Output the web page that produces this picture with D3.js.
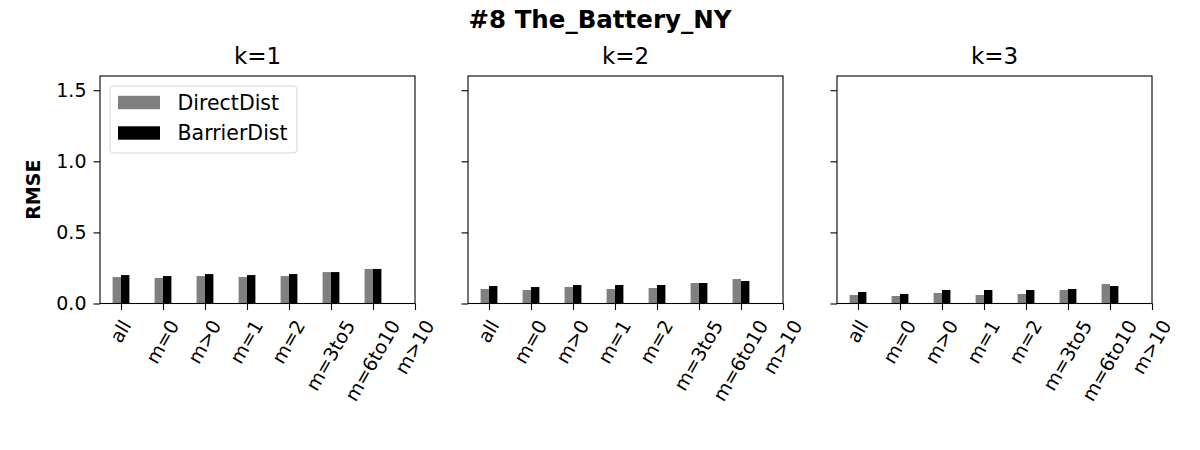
<!DOCTYPE html>
<html>
<head>
<meta charset="utf-8">
<script src="https://cdn.jsdelivr.net/npm/d3@7"></script>
<style>
  body { margin: 0; background: #fff; }
  svg text { font-family: "DejaVu Sans", sans-serif; fill: #000; }
</style>
</head>
<body>
<div id="chart"></div>
<script>
// categories and values
var cats = ['all', 'm=0', 'm>0', 'm=1', 'm=2', 'm=3to5', 'm=6to10', 'm>10'];
var panels = ['k=1', 'k=2', 'k=3'];
var seriesNames = ['DirectDist', 'BarrierDist'];
var seriesColors = ['#808080', '#000000'];

var k1Direct  = [0.186, 0.180, 0.193, 0.186, 0.193, 0.221, 0.243, null];
var k1Barrier = [0.200, 0.193, 0.207, 0.200, 0.207, 0.221, 0.243, null];
var k2Direct  = [0.102, 0.095, 0.116, 0.102, 0.109, 0.144, 0.172, null];
var k2Barrier = [0.123, 0.116, 0.130, 0.130, 0.130, 0.144, 0.158, null];
var k3Direct  = [0.060, 0.053, 0.074, 0.060, 0.067, 0.095, 0.137, null];
var k3Barrier = [0.081, 0.067, 0.095, 0.095, 0.095, 0.102, 0.123, null];

var yTicks = [0, 0.5, 1.0, 1.5];

var panelData = [[k1Direct, k1Barrier], [k2Direct, k2Barrier], [k3Direct, k3Barrier]];

var W = 1200, H = 450;
var panelLeft = [100, 468, 837];
var panelW = 315;
var plotTop = 76, plotBottom = 303.5;
var tickFont = 19, titleFont = 23;

var svg = d3.select("#chart").append("svg").attr("width", W).attr("height", H);

svg.append("text")
  .attr("x", 600).attr("y", 28)
  .attr("text-anchor", "middle")
  .style("font-size", "24.5px").style("font-weight", "bold")
  .text("#8 The_Battery_NY");

var y = d3.scaleLinear().domain([0, 1.6]).range([plotBottom, plotTop]);
var barW = 0.2;

panels.forEach(function(p, pi) {
  var x0 = panelLeft[pi];
  var x = d3.scaleLinear().domain([-0.5, 7]).range([x0, x0 + panelW]);
  var g = svg.append("g");

  // bars
  panelData[pi].forEach(function(vals, si) {
    g.selectAll("rect.s" + si).data(vals.map(function(v, i) { return {v: v, i: i}; }).filter(function(d) { return d.v != null; }))
      .enter().append("rect")
      .attr("class", "s" + si)
      .attr("x", function(d) { return x(d.i + (si == 0 ? -barW : 0)); })
      .attr("width", x(barW) - x(0))
      .attr("y", function(d) { return y(d.v); })
      .attr("height", function(d) { return y(0) - y(d.v); })
      .attr("fill", seriesColors[si]);
  });

  // y axis
  var yAxis = d3.axisLeft(y).tickValues(yTicks).tickSize(6.5).tickPadding(7)
    .tickFormat(pi == 0 ? d3.format(".1f") : function() { return ""; });
  var ya = g.append("g").attr("transform", "translate(" + x0 + ",0)").call(yAxis);
  ya.select(".domain").remove();
  ya.selectAll("line").attr("stroke", "#000").attr("stroke-width", 1.1);
  ya.selectAll("text").style("font-size", tickFont + "px").attr("font-family", null);

  // x axis ticks
  var xAxis = d3.axisBottom(x).tickValues(d3.range(cats.length)).tickSize(6.5).tickFormat("");
  var xa = g.append("g").attr("transform", "translate(0," + plotBottom + ")").call(xAxis);
  xa.select(".domain").remove();
  xa.selectAll("line").attr("stroke", "#000").attr("stroke-width", 1.1);

  // rotated tick labels, bbox centered under tick like matplotlib
  var lblTop = plotBottom + 6.5 + 6.5;
  var sin = Math.sin(Math.PI / 3), cos = Math.cos(Math.PI / 3);
  var hLine = tickFont * 1.164;
  g.selectAll("text.xl").data(cats).enter().append("text")
    .attr("class", "xl")
    .style("font-size", tickFont + "px")
    .attr("text-anchor", "middle")
    .attr("dy", "0.32em")
    .text(function(d) { return d; })
    .each(function(d, i) {
      var L = this.getComputedTextLength();
      var bh = L * sin + hLine * cos;
      var cx = x(i), cy = lblTop + bh / 2;
      d3.select(this).attr("transform", "translate(" + cx + "," + cy + ") rotate(-60)");
    });

  // frame
  g.append("rect")
    .attr("x", x0).attr("y", plotTop)
    .attr("width", panelW).attr("height", plotBottom - plotTop)
    .attr("fill", "none").attr("stroke", "#000").attr("stroke-width", 1.1);

  // subplot title
  g.append("text")
    .attr("x", x0 + panelW / 2).attr("y", plotTop - 12)
    .attr("text-anchor", "middle")
    .style("font-size", titleFont + "px")
    .text(p);
});

// y label
svg.append("text")
  .attr("transform", "translate(40," + ((plotTop + plotBottom) / 2) + ") rotate(-90)")
  .attr("text-anchor", "middle")
  .style("font-size", "19px").style("font-weight", "bold")
  .text("RMSE");

// legend
var leg = svg.append("g");
leg.append("rect")
  .attr("x", 110).attr("y", 86).attr("width", 187).attr("height", 67)
  .attr("rx", 4).attr("fill", "#fff").attr("fill-opacity", 0.8)
  .attr("stroke", "#d6d6d6").attr("stroke-width", 1.1);
seriesNames.forEach(function(s, i) {
  var yy = 102.5 + i * 30.5;
  leg.append("rect")
    .attr("x", 118).attr("y", yy - 6.7).attr("width", 42).attr("height", 13.4)
    .attr("fill", seriesColors[i]);
  leg.append("text")
    .attr("x", 177.5).attr("y", yy).attr("dy", "0.35em")
    .style("font-size", "20.5px")
    .text(s);
});
</script>
</body>
</html>
